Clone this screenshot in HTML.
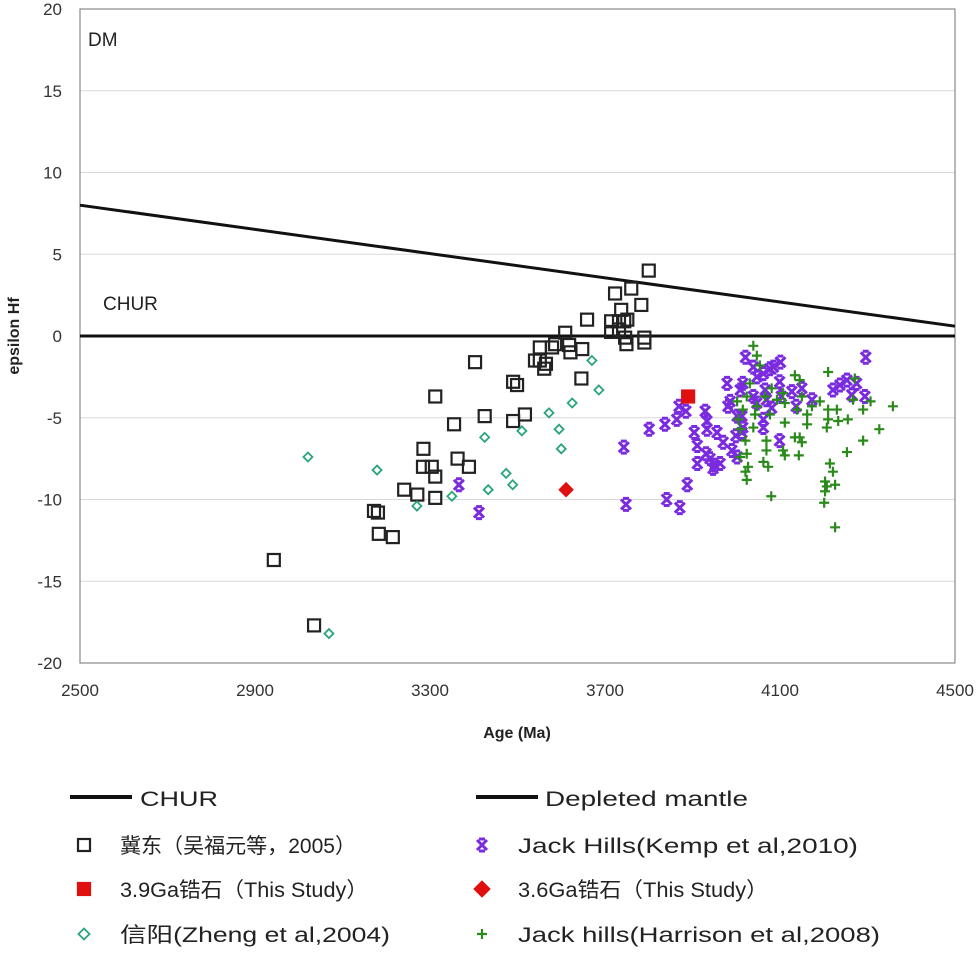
<!DOCTYPE html>
<html><head><meta charset="utf-8"><style>
html,body{margin:0;padding:0;background:#fff;}
svg{display:block;font-family:"Liberation Sans","Noto Sans CJK SC",sans-serif;}
</style></head><body>
<svg id="chart" width="980" height="954" viewBox="0 0 980 954"></svg>
<script>
const xTicks=[2500,2900,3300,3700,4100,4500];
const yTicks=[20,15,10,5,0,-5,-10,-15,-20];
const dmLine=[[2500,8],[4500,0.6]];
const churValue=0;
const jidongAge=[2943,3035,3172,3181,3183,3215,3241,3271,3285,3284,3304,3312,3312,3312,3355,3363,3389,3403,3425,3490,3499,3490,3517,3540,3551,3565,3561,3551,3586,3579,3609,3618,3621,3648,3646,3659,3714,3723,3732,3737,3744,3746,3749,3751,3760,3783,3790,3790,3800,3714,3732];
const jidongHf=[-13.7,-17.7,-10.7,-10.8,-12.1,-12.3,-9.4,-9.7,-6.9,-8.0,-8.0,-8.6,-9.9,-3.7,-5.4,-7.5,-8.0,-1.6,-4.9,-2.8,-3.0,-5.2,-4.8,-1.5,-1.5,-1.7,-2.0,-0.7,-0.5,-0.7,0.2,-0.55,-1.0,-0.8,-2.6,1.0,0.9,2.6,0.9,1.6,0.9,-0.1,-0.5,1.0,2.9,1.9,-0.4,-0.1,4.0,0.25,0.4];
const xinyangAge=[3021,3069,3179,3270,3350,3425,3433,3474,3489,3510,3572,3595,3600,3625,3670,3686];
const xinyangHf=[-7.4,-18.2,-8.2,-10.4,-9.8,-6.2,-9.4,-8.4,-9.1,-5.8,-4.7,-5.7,-6.9,-4.1,-1.5,-3.3];
const study39Age=[3890], study39Hf=[-3.7];
const study36Age=[3611], study36Hf=[-9.4];
const kempAge=[3366,3412,3743,3748,3801,3837,3864,3869,3885,3841,3871,3888,3904,3929,3933,3933,3956,3911,3911,3931,3940,3951,3963,3947,3970,3990,3999,4002,3979,3986,3981,4009,4015,4013,4015,4013,4021,4039,4047,4062,4077,4085,4101,4039,4047,4066,4069,4062,4062,4081,4099,4103,4099,4127,4137,4150,4173,4221,4237,4253,4264,4275,4294,4296,4002];
const kempHf=[-9.1,-10.8,-6.8,-10.3,-5.7,-5.4,-5.1,-4.3,-4.6,-10.0,-10.5,-9.1,-5.9,-4.6,-5.2,-5.7,-5.9,-6.7,-7.8,-7.2,-7.5,-7.9,-7.8,-8.1,-6.5,-7.0,-6.1,-7.4,-2.9,-4.0,-4.3,-3.3,-2.9,-4.9,-5.6,-5.9,-1.3,-1.9,-2.5,-2.3,-2.0,-1.9,-1.6,-3.7,-4.1,-3.3,-3.9,-5.1,-5.6,-4.4,-2.8,-3.7,-6.4,-3.4,-4.3,-3.2,-3.9,-3.3,-3.0,-2.7,-3.6,-2.9,-3.7,-1.3,-4.9];
const harrAge=[4039,4047,4054,4031,4024,4002,4015,4005,4009,4021,4024,4009,4027,4021,4024,4043,4039,4047,4066,4077,4069,4069,4062,4073,4080,4093,4107,4111,4107,4111,4134,4145,4139,4150,4134,4145,4150,4143,4162,4162,4173,4191,4210,4210,4210,4207,4230,4233,4255,4253,4214,4221,4203,4226,4207,4203,4201,4226,4271,4267,4290,4290,4307,4327,4358,4081,4111];
const harrHf=[-0.6,-1.2,-1.8,-2.9,-3.7,-4.0,-4.5,-5.1,-5.7,-6.4,-7.2,-7.4,-8.0,-8.3,-8.8,-4.8,-5.6,-4.3,-3.7,-4.8,-6.4,-7.0,-7.7,-8.0,-9.8,-3.9,-3.5,-5.3,-7.0,-7.3,-2.4,-2.7,-4.5,-3.7,-6.2,-6.2,-6.5,-7.3,-4.8,-5.4,-4.3,-4.0,-2.2,-4.5,-5.1,-5.6,-4.5,-5.2,-5.1,-7.1,-7.8,-8.3,-8.9,-9.1,-9.2,-9.5,-10.2,-11.7,-2.6,-3.9,-4.5,-6.4,-4.0,-5.7,-4.3,-3.2,-4.1];

const NS='http://www.w3.org/2000/svg';
const svg=document.getElementById('chart');
const X0=80,X1=955,Y0=9,Y1=663;
function sx(v){return X0+(v-2500)/2000*(X1-X0);}
function sy(v){return Y0+(20-v)/40*(Y1-Y0);}
function mk(tag,attrs,parent){const e=document.createElementNS(NS,tag);for(const k in attrs)e.setAttribute(k,attrs[k]);(parent||svg).appendChild(e);return e;}

const grid=mk('g',{});


yTicks.forEach(t=>{if(t!==20&&t!==-20&&t!==0){const l=mk('line',{x1:X0,x2:X1,y1:sy(t),y2:sy(t),stroke:'#d8d8d8','stroke-width':1},grid);

}});
const frame=mk('rect',{x:X0,y:Y0,width:X1-X0,height:Y1-Y0,fill:'none',stroke:'#888','stroke-width':1.2});



yTicks.forEach(t=>{const tx=mk('text',{x:62,y:sy(t)+6,'text-anchor':'end','font-size':17,fill:'#333'});tx.textContent=t;

});
xTicks.forEach(t=>{const tx=mk('text',{x:sx(t),y:696,'text-anchor':'middle','font-size':17,fill:'#333'});tx.textContent=t;

});

const xt=mk('text',{x:517,y:738,'text-anchor':'middle','font-size':16,'font-weight':'bold',fill:'#222'});xt.textContent='Age (Ma)';


const yt=mk('text',{x:0,y:0,'text-anchor':'middle','font-size':16,'font-weight':'bold',fill:'#222',transform:'translate(19,336) rotate(-90)'});yt.textContent='epsilon Hf';



const dm=mk('line',{x1:sx(dmLine[0][0]),y1:sy(dmLine[0][1]),x2:sx(dmLine[1][0]),y2:sy(dmLine[1][1]),stroke:'#111','stroke-width':3});


const ch=mk('line',{x1:X0,y1:sy(churValue),x2:X1,y2:sy(churValue),stroke:'#111','stroke-width':3});


const dmt=mk('text',{x:88,y:46,'font-size':19,fill:'#222'});dmt.textContent='DM';


const cht=mk('text',{x:103,y:310,'font-size':19,fill:'#222'});cht.textContent='CHUR';



function square(g,x,y,c,fill){return mk('rect',{x:x-6,y:y-6,width:12,height:12,fill:fill?c:'#fff','fill-opacity':fill?1:0,stroke:c,'stroke-width':2.2},g);}
function diamond(g,x,y,c,fill,r){r=r||4.5;return mk('path',{d:`M${x},${y-r}L${x+r},${y}L${x},${y+r}L${x-r},${y}Z`,fill:fill?c:'none',stroke:c,'stroke-width':1.8},g);}
function cross(g,x,y,c){return mk('path',{d:`M${x-5},${y-5}L${x+5},${y+5}M${x+5},${y-5}L${x-5},${y+5}M${x-3},${y-6}H${x+3}M${x-3},${y+6}H${x+3}`,stroke:c,'stroke-width':3,fill:'none'},g);}
function plus(g,x,y,c){return mk('path',{d:`M${x-5},${y}H${x+5}M${x},${y-5}V${y+5}`,stroke:c,'stroke-width':2.2,fill:'none'},g);}

function series(name,ax,ay,fn){const g=mk('g',{});


ax.forEach((a,i)=>{const m=fn(g,sx(a),sy(ay[i]));

});}
series('kemp-series',kempAge,kempHf,(g,x,y)=>cross(g,x,y,'#7a2be0'));
series('harrison-series',harrAge,harrHf,(g,x,y)=>plus(g,x,y,'#2a8a1a'));
series('jidong-series',jidongAge,jidongHf,(g,x,y)=>square(g,x,y,'#222',false));
series('xinyang-series',xinyangAge,xinyangHf,(g,x,y)=>diamond(g,x,y,'#2aa57a',false));
series('study39-series',study39Age,study39Hf,(g,x,y)=>square(g,x,y,'#e01010',true));
series('study36-series',study36Age,study36Hf,(g,x,y)=>diamond(g,x,y,'#e01010',true,6.5));

const lg=mk('g',{});


function ltext(x,y,s,w,name){const t=mk('text',{x:x,y:y,'font-size':21,fill:'#222',textLength:w,lengthAdjust:'spacingAndGlyphs'},lg);t.textContent=s;

}
mk('line',{x1:70,x2:132,y1:797,y2:797,stroke:'#111','stroke-width':4},lg);
ltext(140,806,'CHUR',78,'legend-chur');
mk('line',{x1:476,x2:538,y1:797,y2:797,stroke:'#111','stroke-width':4},lg);
ltext(545,806,'Depleted mantle',203,'legend-depleted-mantle');
square(lg,84,845,'#222',false);
ltext(120,853,'冀东（吴福元等，2005）',236,'legend-jidong');
cross(lg,482,845,'#7a2be0');
ltext(518,853,'Jack Hills(Kemp et al,2010)',340,'legend-kemp');
square(lg,84,889,'#e01010',true);
ltext(120,897,'3.9Ga锆石（This Study）',248,'legend-study39');
diamond(lg,482,889,'#e01010',true,7.5);
ltext(518,897,'3.6Ga锆石（This Study）',250,'legend-study36');
diamond(lg,84,934,'#2aa57a',false,5.5);
ltext(120,942,'信阳(Zheng et al,2004)',270,'legend-xinyang');
plus(lg,482,934,'#2a8a1a');
ltext(518,942,'Jack hills(Harrison et al,2008)',362,'legend-harrison');
</script>
</body></html>
